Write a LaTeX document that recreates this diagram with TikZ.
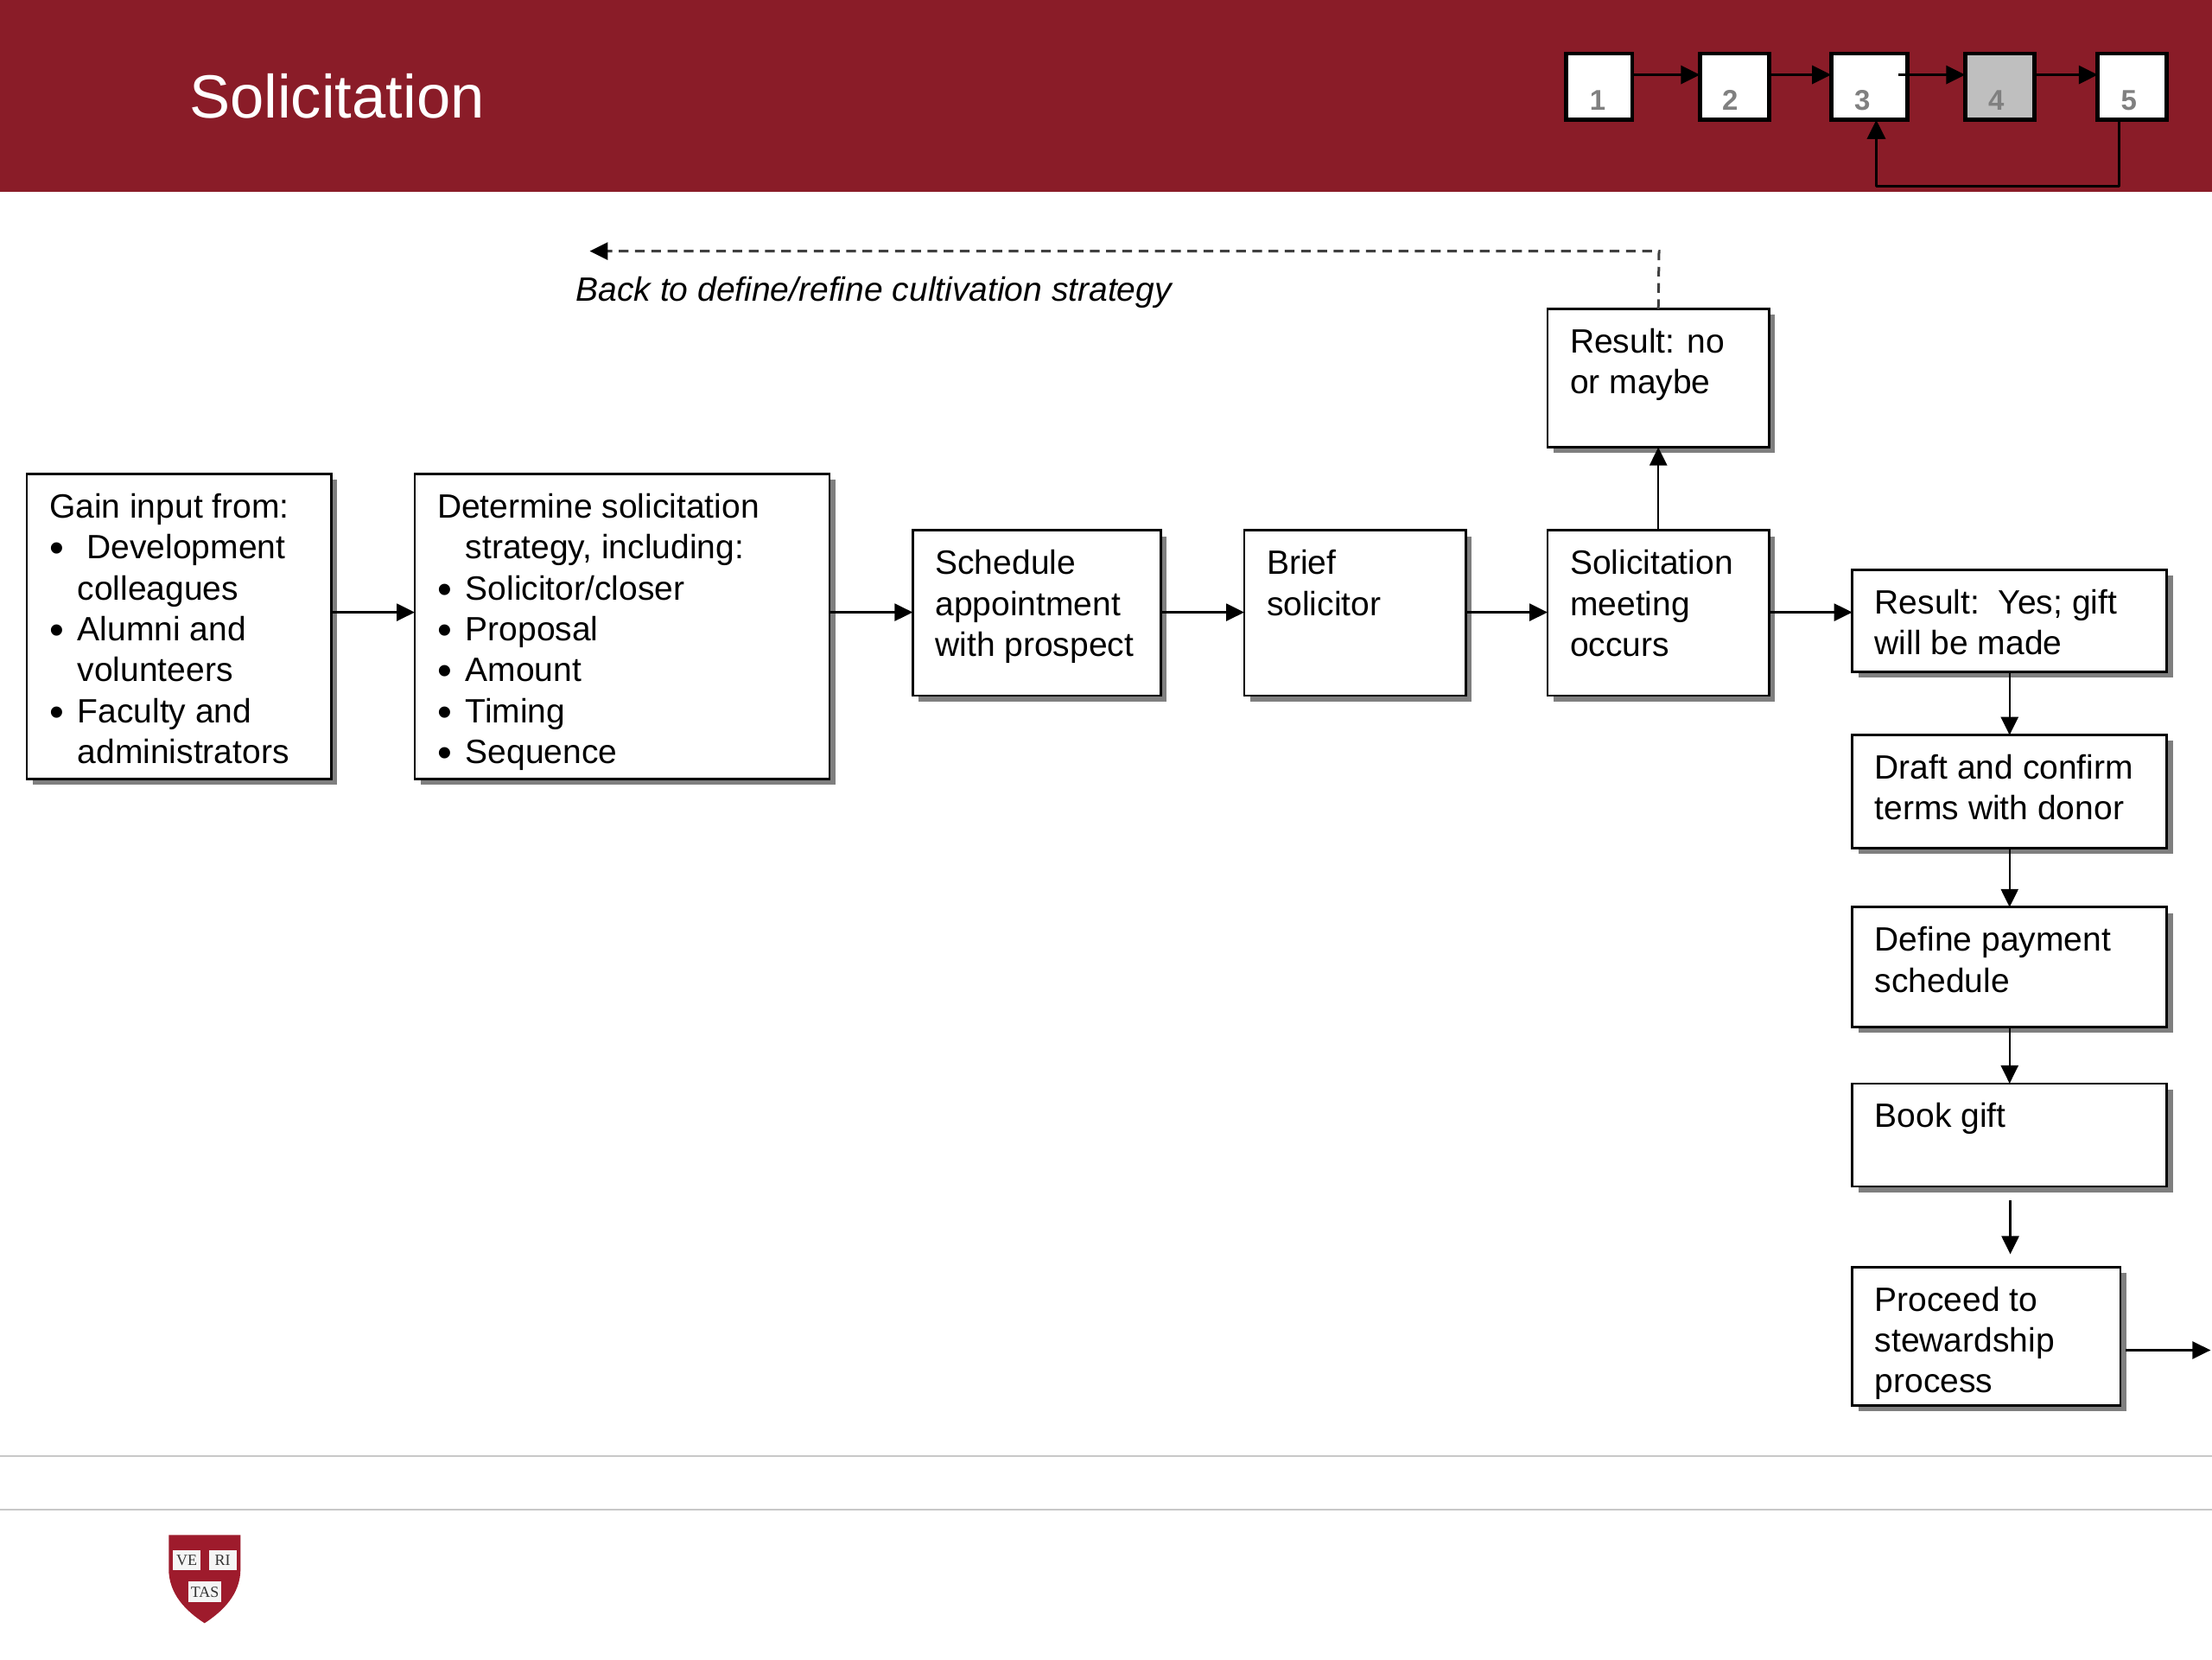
\documentclass[tikz,border=0pt]{standalone}
\usepackage{fontspec}
\setmainfont{Liberation Sans}
\newfontfamily\shieldfont{Liberation Serif}
\usetikzlibrary{arrows.meta,shadows}
\definecolor{crimsonbar}{HTML}{8A1C28}
\definecolor{shieldred}{HTML}{9E1B2C}
\definecolor{shadowgray}{HTML}{7F7F7F}
\definecolor{rulegray}{HTML}{C8C8C8}
\definecolor{digitgray}{HTML}{808080}
\definecolor{graybox}{HTML}{BFBFBF}
\newlength{\bxw}\newlength{\bxh}
\newcommand{\bul}{\makebox[16.3pt][l]{\raisebox{-2pt}{\fontsize{24}{20}\selectfont\textbullet}}}
\newcommand{\hng}{\hspace*{16.3pt}}
\newcommand{\flowbox}[6]{%
  \pgfmathsetlength{\bxw}{(#4-#2)*0.81633-26.1}%
  \pgfmathsetlength{\bxh}{(#5-#3)*0.81633}%
  \node[flowstyle,anchor=north west] (#1) at (#2,#3)
    {\parbox[t][\bxh][t]{\bxw}{\raggedright\rule{0pt}{25.5pt}#6}};}
\newcommand{\stepbox}[7]{%
  \pgfmathsetlength{\bxw}{(#4-#2)*0.81633}%
  \pgfmathsetlength{\bxh}{(#5-#3)*0.81633}%
  \node[stepstyle,fill=#6,anchor=north west] (#1) at (#2,#3)
    {\parbox[t][\bxh][t]{\bxw}{\centering\rule{0pt}{32.5pt}#7}};}
\tikzset{
  flowstyle/.style={draw=black,fill=white,line width=1.4pt,inner xsep=13.05pt,inner ysep=0pt,outer sep=0pt,
    font=\fontsize{19.5}{23.67}\selectfont,
    general shadow={fill=shadowgray,shadow xshift=3.4pt,shadow yshift=-3.4pt}},
  stepstyle/.style={draw=black,line width=2.4pt,inner sep=0pt,outer sep=0pt,text=digitgray,
    font=\fontsize{16.5}{18}\selectfont\bfseries},
  flowarrow/.style={draw=black,line width=1.2pt,-{Triangle[length=10.5pt,width=10pt]}},
  steparrow/.style={draw=black,line width=1.7pt,-{Triangle[length=11pt,width=10.5pt]}},
  backarrow/.style={draw=black!75,line width=1.5pt,dash pattern=on 5.6pt off 3.8pt,-{Triangle[length=10.5pt,width=10pt,color=black,fill=black]}},
  footrule/.style={draw=rulegray,line width=1.2pt},
  bookstyle/.style={fill=white!92!gray,inner sep=0pt,outer sep=0pt,text=black!80,font=\fontsize{9}{10}\selectfont\shieldfont},
}
\begin{document}
\begin{tikzpicture}[x=0.81633pt,y=-0.81633pt]
\useasboundingbox (0,0) rectangle (1568,1176);
\fill[crimsonbar] (0,0) rectangle (1568,136);
\node[anchor=west,inner sep=0pt,text=white,font=\fontsize{35.3}{40}\selectfont] (title) at (134,68) {Solicitation};
% step strip
\stepbox{sa}{1110}{38}{1157}{85}{white}{\hspace*{-1.5pt}1}
\stepbox{sb}{1205}{38}{1254}{85}{white}{\hspace*{-5pt}2}
\stepbox{sc}{1298}{38}{1352}{85}{white}{\hspace*{-8pt}3}
\stepbox{sd}{1393}{38}{1442}{85}{graybox}{\hspace*{-4pt}4}
\stepbox{se}{1487}{38}{1536}{85}{white}{\hspace*{-4pt}5}
\coordinate (steprow) at (0,53);
\coordinate (loopL) at (1330,132);
\coordinate (loopR) at (1502,132);
\draw[steparrow] (sa.east |- steprow) -- (sb.west |- steprow);
\draw[steparrow] (sb.east |- steprow) -- (sc.west |- steprow);
\draw[steparrow] ([xshift=-5pt]sc.east |- steprow) -- (sd.west |- steprow);
\draw[steparrow] (sd.east |- steprow) -- (se.west |- steprow);
\draw[steparrow,line join=round] (loopR |- se.south) -- (loopR) -- (loopL) -- (loopL |- sc.south);
% main boxes
\flowbox{gain}{19}{336}{235}{552}{Gain input from:\\ \bul\ Development\\ \hng colleagues\\ \bul Alumni and\\ \hng volunteers\\ \bul Faculty and\\ \hng administrators}
\flowbox{strategy}{294}{336}{588}{552}{Determine solicitation\\ \hng strategy, including:\\ \bul Solicitor/closer\\ \bul Proposal\\ \bul Amount\\ \bul Timing\\ \bul Sequence}
\flowbox{schedule}{647}{376}{823}{493}{Schedule\\ appointment\\ with prospect}
\flowbox{brief}{882}{376}{1039}{493}{Brief\\ solicitor}
\flowbox{meeting}{1097}{376}{1254}{493}{Solicitation\\ meeting\\ occurs}
\flowbox{resno}{1097}{219}{1254}{317}{Result: no\\ or maybe}
\flowbox{resyes}{1313}{404}{1536}{476}{Result:\ \ Yes; gift\\ will be made}
\flowbox{draft}{1313}{521}{1536}{601}{Draft and confirm\\ terms with donor}
\flowbox{payment}{1313}{643}{1536}{728}{Define payment\\ schedule}
\flowbox{book}{1313}{768}{1536}{841}{Book gift}
\flowbox{proceed}{1313}{898}{1503}{996}{Proceed to\\ stewardship\\ process}
% connectors
\coordinate (mainrow) at (0,434);
\draw[flowarrow] (gain.east |- mainrow) -- (strategy.west |- mainrow);
\draw[flowarrow] (strategy.east |- mainrow) -- (schedule.west |- mainrow);
\draw[flowarrow] (schedule.east |- mainrow) -- (brief.west |- mainrow);
\draw[flowarrow] (brief.east |- mainrow) -- (meeting.west |- mainrow);
\draw[flowarrow] (meeting.east |- mainrow) -- (resyes.west |- mainrow);
\draw[flowarrow] (meeting.north) -- (resno.south);
\draw[flowarrow] (resyes.south) -- (draft.north);
\draw[flowarrow] (draft.south) -- (payment.north);
\draw[flowarrow] (payment.south) -- (book.north);
\coordinate (gapstart) at (1425,851);
\coordinate (gapend) at (1425,889);
\draw[flowarrow] (gapstart) -- (gapend);
\coordinate (outstart) at (1507,957);
\coordinate (outend) at (1567,957);
\draw[flowarrow] (outstart) -- (outend);
\coordinate (backcorner) at (1176,178);
\coordinate (backend) at (418,178);
\draw[backarrow] (resno.north) -- (backcorner) -- (backend);
\node[anchor=west,inner sep=0pt,font=\fontsize{19.5}{23.67}\selectfont\itshape] (backlabel) at (408,207.5) {Back to define/refine cultivation strategy};
% footer
\coordinate (ruleAa) at (0,1032);\coordinate (ruleAb) at (1568,1032);
\coordinate (ruleBa) at (0,1070);\coordinate (ruleBb) at (1568,1070);
\draw[footrule] (ruleAa) -- (ruleAb);
\draw[footrule] (ruleBa) -- (ruleBb);
% shield
\fill[shieldred] (119.6,1088) -- (170.5,1088) -- (170.5,1112) .. controls (170.5,1130) and (158,1142) .. (145,1150.5) .. controls (132,1142) and (119.6,1130) .. (119.6,1112) -- cycle;
\node[bookstyle,minimum width=16pt,minimum height=11.5pt] (ve) at (132.3,1106) {VE};
\node[bookstyle,minimum width=16pt,minimum height=11.5pt] (ri) at (157.8,1106) {RI};
\node[bookstyle,minimum width=19pt,minimum height=12pt] (tas) at (145.2,1128.5) {TAS};
\end{tikzpicture}
\end{document}
